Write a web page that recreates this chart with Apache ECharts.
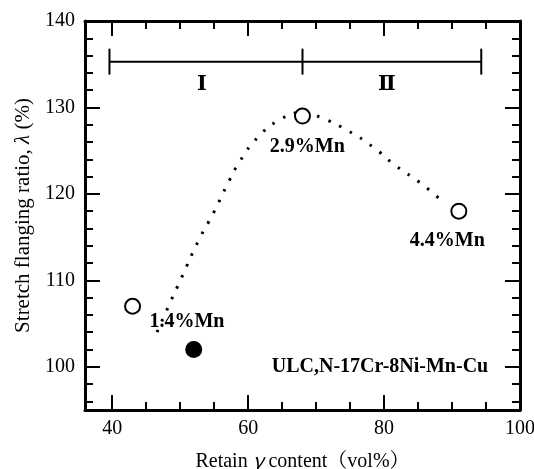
<!DOCTYPE html>
<html>
<head>
<meta charset="utf-8">
<script src="https://cdn.jsdelivr.net/npm/echarts@6/dist/echarts.min.js"></script>
<style>
  html, body { margin: 0; padding: 0; background: #fff; }
  #chart { width: 534px; height: 469px; }
</style>
</head>
<body>
<div id="chart"></div>
<script>
// Axis ranges and tick positions
const xRange = [36, 100];
const yRange = [95, 140];
const xMajorTicks = [40, 60, 80, 100];
const xMinorTicks = [45, 50, 55, 65, 70, 75, 85, 90, 95];
const yMajorTicks = [100, 110, 120, 130, 140];
const yMinorTicks = [96, 98, 102, 104, 106, 108, 112, 114, 116, 118, 122, 124, 126, 128, 132, 134, 136, 138];

// Measured points: retained austenite (vol%) vs stretch flanging ratio (%)
const openX = [43, 68, 91];
const openY = [107, 129, 118];
const filledX = [52];
const filledY = [102];

// Guide curve through the trend
const trendX = [46.6, 48.4, 50.2, 52.7, 54.9, 56.7, 58.8, 61.5, 64.7, 68.0, 70.8, 74.7, 78.4, 81.8, 85.3, 88.5];
const trendY = [104.0, 107.2, 110.3, 114.6, 117.8, 120.7, 123.8, 126.6, 128.6, 129.4, 128.8, 127.3, 125.4, 123.2, 121.3, 119.2];

// Region bracket (I / II)
const bracketX = [39.6, 68, 94.3];
const bracketLevel = 135.3;
const bracketCap = 1.5;
const regionNames = ['Ⅰ', 'Ⅱ'];
const regionX = [53.2, 80.4];
const regionY = [132.7, 132.7];

// Annotations
const noteText = ['2.9%Mn', '4.4%Mn', '1.4%Mn', 'ULC,N-17Cr-8Ni-Mn-Cu'];
const noteX = [68.7, 89.3, 51.0, 79.4];
const noteY = [125.4, 114.6, 105.2, 100.0];

const serif = "'Liberation Serif', 'DejaVu Serif', 'Noto Serif CJK SC', serif";
const gridRect = { left: 85, right: 14, top: 21, bottom: 59, outerBoundsMode: 'none', containLabel: false };

function xAxisDef(gridIndex, position, ticks, tickLen, showLine, showLabel) {
  return {
    type: 'value', gridIndex, position, min: xRange[0], max: xRange[1],
    axisLine: { show: showLine, onZero: false, lineStyle: { color: '#000', width: 3 } },
    axisTick: { show: true, inside: true, length: tickLen, customValues: ticks, lineStyle: { color: '#000', width: 2 } },
    axisLabel: { show: showLabel, customValues: ticks, color: '#000', fontFamily: serif, fontSize: 20, margin: 9 },
    splitLine: { show: false }
  };
}
function yAxisDef(gridIndex, position, ticks, tickLen, showLine, showLabel) {
  return {
    type: 'value', gridIndex, position, min: yRange[0], max: yRange[1],
    axisLine: { show: showLine, onZero: false, lineStyle: { color: '#000', width: 3 } },
    axisTick: { show: true, inside: true, length: tickLen, customValues: ticks, lineStyle: { color: '#000', width: 2 } },
    axisLabel: { show: showLabel, customValues: ticks, color: '#000', fontFamily: serif, fontSize: 20, margin: 10 },
    splitLine: { show: false }
  };
}

const xAxes = [
  xAxisDef(0, 'bottom', xMajorTicks, 15, true, true),
  xAxisDef(0, 'top', xMajorTicks, 15, true, false),
  xAxisDef(1, 'bottom', xMinorTicks, 8, false, false),
  xAxisDef(1, 'top', xMinorTicks, 8, false, false)
];
Object.assign(xAxes[0], {
  name: 'Retain {g|γ} content（vol%）',
  nameLocation: 'middle',
  nameGap: 40,
  nameTextStyle: {
    color: '#000', fontFamily: serif, fontSize: 20,
    rich: { g: { fontFamily: "'Noto Sans CJK SC', serif", fontStyle: 'italic', fontSize: 20, color: '#000', padding: [0, 0, 4, 0] } }
  }
});

const yAxes = [
  yAxisDef(0, 'left', yMajorTicks, 15, true, true),
  yAxisDef(0, 'right', yMajorTicks, 15, true, false),
  yAxisDef(1, 'left', yMinorTicks, 8, false, false),
  yAxisDef(1, 'right', yMinorTicks, 8, false, false)
];
Object.assign(yAxes[0], {
  name: 'Stretch flanging ratio, {l|λ} (%)',
  nameLocation: 'middle',
  nameGap: 46,
  nameTextStyle: {
    color: '#000', fontFamily: serif, fontSize: 21,
    rich: { l: { fontFamily: serif, fontStyle: 'italic', fontSize: 21, color: '#000' } }
  }
});

const zip = (a, b) => a.map((v, i) => [v, b[i]]);

// Bracket segments: one horizontal line plus a vertical cap at each x
const bracketSeries = [{
  type: 'line', xAxisIndex: 0, yAxisIndex: 0, silent: true, symbol: 'none',
  data: [[bracketX[0], bracketLevel], [bracketX[bracketX.length - 1], bracketLevel]],
  lineStyle: { color: '#000', width: 2 }, z: 3
}].concat(bracketX.map(x => ({
  type: 'line', xAxisIndex: 0, yAxisIndex: 0, silent: true, symbol: 'none',
  data: [[x, bracketLevel - bracketCap], [x, bracketLevel + bracketCap]],
  lineStyle: { color: '#000', width: 2 }, z: 3
})));

const textLabel = size => ({
  show: true, position: 'inside', formatter: p => p.name,
  color: '#000', fontFamily: serif, fontWeight: 'bold', fontSize: size
});

const option = {
  animation: false,
  backgroundColor: '#fff',
  grid: [Object.assign({}, gridRect), Object.assign({}, gridRect)],
  xAxis: xAxes,
  yAxis: yAxes,
  series: [
    {
      type: 'line', xAxisIndex: 0, yAxisIndex: 0, smooth: true, showSymbol: false, symbol: 'none',
      data: zip(trendX, trendY),
      lineStyle: { color: '#000', width: 3, type: [2.5, 9.5] }, z: 2
    },
    ...bracketSeries,
    {
      type: 'scatter', xAxisIndex: 0, yAxisIndex: 0, symbol: 'circle', symbolSize: 15,
      data: zip(openX, openY),
      itemStyle: { color: '#fff', borderColor: '#000', borderWidth: 2, opacity: 1 }, z: 5
    },
    {
      type: 'scatter', xAxisIndex: 0, yAxisIndex: 0, symbol: 'circle', symbolSize: 17,
      data: zip(filledX, filledY),
      itemStyle: { color: '#000', opacity: 1 }, z: 5
    },
    {
      type: 'scatter', xAxisIndex: 0, yAxisIndex: 0, symbolSize: 0, silent: true,
      data: noteText.map((t, i) => ({ value: [noteX[i], noteY[i]], name: t })),
      itemStyle: { opacity: 1 },
      label: textLabel(20), z: 6
    },
    {
      type: 'scatter', xAxisIndex: 0, yAxisIndex: 0, symbolSize: 0, silent: true,
      data: regionNames.map((t, i) => ({ value: [regionX[i], regionY[i]], name: t })),
      itemStyle: { opacity: 1 },
      label: textLabel(21), z: 6
    }
  ]
};

const chart = echarts.init(document.getElementById('chart'), null, { renderer: 'canvas' });
chart.setOption(option);
</script>
</body>
</html>
